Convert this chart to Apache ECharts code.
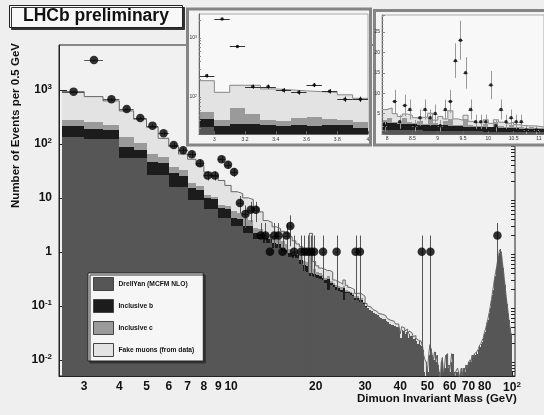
<!DOCTYPE html>
<html>
<head>
<meta charset="utf-8">
<script src="https://cdn.jsdelivr.net/npm/echarts@6/dist/echarts.min.js"></script>
<style>
html, body { margin: 0; padding: 0; background: #efefef; }
#chart { width: 544px; height: 415px; }
</style>
</head>
<body>
<div id="chart"></div>
<script>
const FONT = 'Liberation Sans, Arial, sans-serif';

// ---- main plot: 0.5 GeV bins from 2.5 GeV ----
const mainStart = 2.5;
const mainWidth = 0.5;
const drellYan = [
  137, 124, 124, 54, 54, 27, 27, 16, 16, 9.2,
  9.2, 6.2, 6.2, 4.2, 4.2, 3.0, 3.0, 2.2, 2.2, 1.7,
  1.7, 1.45, 1.45, 1.2, 1.2, 1.0, 0.95, 0.8, 0.76, 0.76,
  0.6, 0.45, 0.43, 0.36, 0.34, 0.33, 0.32, 0.3, 0.27, 0.2,
  0.24, 0.22, 0.2, 0.19, 0.18, 0.13, 0.17, 0.17, 0.16, 0.15,
  0.13, 0.13, 0.12, 0.12, 0.11, 0.095, 0.09, 0.085, 0.08, 0.075,
  0.07, 0.068, 0.062, 0.06, 0.058, 0.056, 0.052, 0.05, 0.046, 0.045,
  0.044, 0.043, 0.04, 0.04, 0.038, 0.025, 0.036, 0.034, 0.03, 0.033,
  0.025, 0.03, 0.028, 0.027, 0.024, 0.025, 0.022, 0.02, 0.022, 0.019,
  0.018, 0.015, 0.006, 0.004, 0.009, 0.006, 0.012, 0.019, 0.016, 0.012,
  0.01, 0.014, 0.009, 0.012, 0.008, 0.006, 0.004, 0.009, 0.011, 0.006,
  0.007, 0.012, 0.013, 0.007, 0.008, 0.006, 0.009, 0.013, 0.013, 0.006,
  0.005, 0.006, 0.006, 0.007, 0.006, 0.004, 0.006, 0.007, 0.005, 0.007,
  0.007, 0.006, 0.008, 0.008, 0.007, 0.009, 0.009, 0.01, 0.009, 0.012,
  0.012, 0.011, 0.013, 0.012, 0.014, 0.013, 0.015, 0.016, 0.018, 0.017,
  0.02, 0.022, 0.021, 0.025, 0.03, 0.032, 0.037, 0.042, 0.05, 0.055,
  0.065, 0.075, 0.09, 0.11, 0.13, 0.16, 0.2, 0.24, 0.3, 0.36,
  0.42, 0.5, 0.6, 0.72, 0.85, 0.97, 1.1, 1.12, 1.0, 0.82,
  0.62, 0.5, 0.4, 0.3, 0.24, 0.18, 0.14, 0.11, 0.09, 0.07,
  0.055, 0.045, 0.038, 0.032, 0.03
];
const inclB = [
  78, 63, 57, 33, 23, 20, 17, 13, 9, 5.8,
  4.8, 3.7, 3.3, 2.3, 2.1, 1.2, 1.1, 0.8, 0.75, 0.5,
  0.45, 0.35, 0.3, 0.25, 0.2, 0.2, 0.15, 0.15, 0.12, 0.1,
  0.1, 0.12, 0.12, 0.05, 0.05, 0.04, 0.04, 0.03, 0.03, 0.12,
  0.02, 0.02, 0.02, 0.02, 0.02, 0.08, 0.01, 0.01, 0.01, 0.01,
  0.01, 0.01, 0.01, 0.01, 0.005, 0.005
];
const inclC = [
  63, 72, 44, 46, 26, 18, 13, 9, 8, 4,
  2.5, 1.5, 1.0, 0.9, 0.8, 1.4, 1.2, 1.2, 1.0, 0.6,
  0.5, 0.4, 0.35, 0.5, 0.3, 0.4, 0.3, 0.2, 0.15, 0.1,
  0.15, 0.1, 0.1, 0.6, 0.1, 0.05, 0.04, 0.04, 0.03, 0.03,
  0.03, 0.02, 0.02, 0.02, 0.02, 0.02, 0.02, 0.01, 0.01, 0.01,
  0.01, 0.01, 0.01, 0.01, 0.005
];
const fakeMu = [
  652, 493, 401, 275, 184, 139, 70, 51, 32, 33,
  23.5, 18.6, 14.5, 13.6, 9.9, 7.4, 6.7, 5.8, 5.35, 3.7,
  2.85, 1.6, 1.4, 0.95, 1.0, 0.8, 0.8, 0.75, 0.57, 0.44,
  0.4, 0.33, 0.25, 1.19, 0.17, 0.13, 0.1, 0.11, 0.12, 0.1,
  0.13, 0.04, 0.04, 0.04, 0.03, 0.07, 0.04, 0.03, 0.03, 0.03,
  0.02, 0.02, 0.03, 0.02, 0.03, 0.01, 0.01, 0.01, 0.01, 0.01,
  0.01, 0.01, 0.01, 0.01, 0.01, 0.01, 0.01, 0.008, 0.008, 0.008,
  0.008, 0.006, 0.006, 0.006, 0.005, 0.005, 0.005, 0.005, 0.004, 0.004,
  0.004, 0.004, 0.004, 0.003, 0.003, 0.003, 0.003, 0.003, 0.003, 0.003,
  0.003, 0.003, 0.006, 0.006
];
const dataMass = [
  2.75, 3.25, 3.75, 4.25, 4.75, 5.25, 5.75, 6.25, 6.75, 7.25,
  7.75, 8.25, 8.75, 9.25, 9.75, 10.25, 10.75, 11.25, 11.75, 12.25,
  12.75, 13.25, 13.75, 14.25, 14.75, 15.25, 15.75, 16.25, 16.75, 17.75,
  18.25, 18.75, 19.25, 19.75, 21.25, 23.75, 27.75, 28.75, 47.75, 51.25,
  88.75
];
const dataCount = [
  930, 3600, 673, 445, 303, 218, 158, 95, 76, 64,
  44, 26, 26, 52, 41, 30, 8, 5, 6, 6,
  2, 2, 1, 2, 2, 1, 2, 3, 1, 1,
  1, 1, 1, 1, 1, 1, 1, 1, 1, 1,
  2
];
const mainXTicks = [3, 4, 5, 6, 7, 8, 9, 10, 20, 30, 40, 50, 60, 70, 80, 100];
const mainYTicks = [0.01, 0.1, 1, 10, 100, 1000];
const mainYMinor = [
  0.006, 0.007, 0.008, 0.009, 0.02, 0.03, 0.04, 0.05, 0.06, 0.07, 0.08, 0.09,
  0.2, 0.3, 0.4, 0.5, 0.6, 0.7, 0.8, 0.9, 2, 3, 4, 5, 6, 7, 8, 9,
  20, 30, 40, 50, 60, 70, 80, 90, 200, 300, 400, 500, 600, 700, 800, 900,
  2000, 3000, 4000, 5000, 6000
];

// ---- J/psi inset: 0.1 GeV bins from 2.9 GeV ----
const jpsiStart = 2.9;
const jpsiWidth = 0.1;
const jpsiDY = [31, 20, 20, 20, 20, 19, 19, 18, 18, 18, 17];
const jpsiB = [11, 12, 15, 15, 13.5, 13, 14.5, 14, 15, 15, 13];
const jpsiC = [14, 9, 29, 16, 7.5, 7, 10.5, 14, 9, 7, 7];
const jpsiFake = [133, 79, 94, 107, 96, 93, 83, 77, 78, 69, 58];
const jpsiCount = [230, 2100, 720, 150, 150, 130, 120, 160, 125, 92, 92];
const jpsiXTicks = [3, 3.2, 3.4, 3.6, 3.8, 4];
const jpsiYTicks = [100, 1000];
const jpsiYMinor = [30, 40, 50, 60, 70, 80, 90, 200, 300, 400, 500, 600, 700, 800, 900, 2000];

// ---- Upsilon inset: 0.1 GeV bins from 7.9 GeV ----
const upsStart = 7.9;
const upsWidth = 0.1;
const upsDY = [1.0, 1.0, 1.0, 0.9, 0.9, 0.9, 0.9, 0.9, 0.8, 0.8, 0.8, 0.8, 0.8, 0.8, 0.7, 0.7,
  0.7, 0.7, 0.7, 0.7, 0.6, 0.6, 0.6, 0.6, 0.6, 0.6, 0.5, 0.5, 0.5, 0.5, 0.5, 0.5];
const upsB = [1.9, 1.7, 1.6, 1.6, 1.5, 1.5, 1.5, 1.4, 1.4, 1.4, 1.3, 1.3, 1.3, 1.2, 1.2, 1.2,
  1.1, 1.1, 1.1, 1.0, 1.0, 1.0, 1.0, 0.9, 0.9, 0.9, 0.9, 0.8, 0.8, 0.8, 0.8, 0.7];
const upsC = [0.5, 1.3, 0.3, 0.4, 1.6, 0.6, 0.2, 1.0, 0.3, 1.4, 0.5, 0.2, 1.0, 1.8, 0.2, 0.3,
  2.0, 0.5, 0.2, 0.3, 0.9, 0.2, 1.3, 0.5, 0.2, 0.6, 0.3, 0.3, 0.2, 0.3, 0.2, 0.2];
const upsFake = [2.6, 2.4, 2.1, 1.4, 0.9, 1.6, 1.4, 0.8, 1.6, 1.5, 0.8, 2.0, 0.6, 1.9, 1.6, 1.2,
  0.8, 0.8, 0.8, 0.8, 1.0, 0.8, 0.6, 0.9, 0.8, 0.8, 0.6, 0.5, 0.5, 0.4, 0.4, 0.3];
const upsCount = [2, null, 8, 3, 7, 6, 2, 4, 6, 4, 5, 2, 6, 8, 18, 23,
  15, 6, 3, 3, 3, 12, 2, 6, 3, 4, 3, 3, 1, null, 1, null];
const upsXTicks = [8, 8.5, 9, 9.5, 10, 10.5, 11];
const upsYTicks = [5, 10, 15, 20, 25];

const NAMES = ['DrellYan (MCFM NLO)', 'Inclusive b', 'Inclusive c', 'Fake muons (from data)'];
const COLORS = ['#565656', '#1c1c1c', '#9a9a9a', '#e3e3e3'];

// stack the components bin by bin
function buildStack(start, width, comps) {
  const n = Math.max(...comps.map(c => c.length));
  const layers = comps.map(() => []);
  const total = [];
  for (let i = 0; i < n; i++) {
    const lo = +(start + i * width).toFixed(3);
    const hi = +(start + (i + 1) * width).toFixed(3);
    let acc = 0;
    comps.forEach((c, k) => {
      const v = c[i] || 0;
      layers[k].push([lo, hi, acc, acc + v]);
      acc += v;
    });
    total.push([lo, acc]);
  }
  total.push([+(start + n * width).toFixed(3), total[n - 1][1]]);
  return { layers, total };
}

function points(xs, counts, halfW) {
  const out = [];
  counts.forEach((n, i) => {
    if (n == null) return;
    const e = Math.sqrt(n);
    out.push([xs[i], n, xs[i] - halfW, xs[i] + halfW, n - e, n + e]);
  });
  return out;
}

function renderBin(yMin) {
  return function (params, api) {
    const top = api.value(3);
    const base = Math.max(api.value(2), yMin);
    if (!(top > base)) return;
    const a = api.coord([api.value(0), top]);
    const b = api.coord([api.value(1), base]);
    const x0 = Math.round(a[0]), x1 = Math.round(b[0]);
    const y0 = Math.round(a[1]), y1 = Math.round(b[1]);
    if (x1 <= x0 || y1 <= y0) return;
    return {
      type: 'rect',
      shape: { x: x0, y: y0, width: x1 - x0, height: y1 - y0 },
      style: { fill: api.visual('color') }
    };
  };
}

function renderErr(yMin, color) {
  return function (params, api) {
    const x = api.value(0), y = api.value(1);
    const c = api.coord([x, y]);
    const t = api.coord([x, api.value(5)]);
    const b = api.coord([x, Math.max(api.value(4), yMin)]);
    const l = api.coord([api.value(2), y]);
    const r = api.coord([api.value(3), y]);
    const cx = Math.round(c[0]) + 0.5, cy = Math.round(c[1]) + 0.5;
    return {
      type: 'group',
      children: [
        { type: 'line', shape: { x1: cx, y1: t[1], x2: cx, y2: b[1] }, style: { stroke: color, lineWidth: 1 } },
        { type: 'line', shape: { x1: l[0], y1: cy, x2: r[0], y2: cy }, style: { stroke: color, lineWidth: 1 } }
      ]
    };
  };
}

function stackSeries(stack, xi, yi, yMin, z, outline) {
  const list = stack.layers.map((layer, k) => ({
    type: 'custom', name: NAMES[k], xAxisIndex: xi, yAxisIndex: yi, z: z, clip: true,
    itemStyle: { color: COLORS[k] },
    encode: { x: 0, y: 3 },
    renderItem: renderBin(yMin),
    data: layer
  }));
  list.push({
    type: 'line', xAxisIndex: xi, yAxisIndex: yi, z: z + 1, step: 'end', symbol: 'none', clip: true,
    lineStyle: { color: outline, width: 1 }, data: stack.total, silent: true
  });
  return list;
}

function dataSeries(pts, xi, yi, yMin, z, size, errColor) {
  return [
    {
      type: 'custom', xAxisIndex: xi, yAxisIndex: yi, z: z, clip: true,
      encode: { x: 0, y: 1 }, renderItem: renderErr(yMin, errColor), data: pts
    },
    {
      type: 'scatter', xAxisIndex: xi, yAxisIndex: yi, z: z + 1, symbol: 'circle', symbolSize: size,
      itemStyle: { color: '#000' }, data: pts.map(p => [p[0], p[1]])
    }
  ];
}

const powLabel = (v, small) => {
  const e = Math.round(Math.log10(v));
  if (e === 0) return '1';
  if (e === 1 && !small) return '10';
  return '{b|10}{s|' + e + '}';
};

const mainStack = buildStack(mainStart, mainWidth, [drellYan, inclB, inclC, fakeMu]);
const jpsiStack = buildStack(jpsiStart, jpsiWidth, [jpsiDY, jpsiB, jpsiC, jpsiFake]);
const upsStack = buildStack(upsStart, upsWidth, [upsDY, upsB, upsC, upsFake]);

const jpsiX = jpsiCount.map((_, i) => +(jpsiStart + (i + 0.5) * jpsiWidth).toFixed(3));
const upsX = upsCount.map((_, i) => +(upsStart + (i + 0.5) * upsWidth).toFixed(3));

const MAIN_YMIN = 0.005, JPSI_YMIN = 23.6;

const smallAxis = { fontFamily: FONT, fontSize: 5, color: '#333' };

const chart = echarts.init(document.getElementById('chart'));
chart.setOption({
  animation: false,
  backgroundColor: '#efefef',
  title: {
    text: 'LHCb preliminary', left: 9, top: 5, padding: [2, 14, 2, 14],
    backgroundColor: '#f8f8f8', borderColor: '#222', borderWidth: 1,
    shadowColor: '#333', shadowOffsetX: 2, shadowOffsetY: 2, shadowBlur: 0,
    textStyle: { fontFamily: FONT, fontWeight: 'bold', fontSize: 17.5, lineHeight: 19, color: '#111' }
  },
  legend: {
    left: 88, top: 273, orient: 'vertical', icon: 'rect', selectedMode: false,
    itemWidth: 20, itemHeight: 13, itemGap: 8, padding: [4, 9, 4, 5],
    backgroundColor: '#f6f6f6', borderColor: '#222', borderWidth: 1,
    shadowColor: '#333', shadowOffsetX: 2, shadowOffsetY: 2, shadowBlur: 0,
    itemStyle: { borderColor: '#444', borderWidth: 1 },
    textStyle: { fontFamily: FONT, fontSize: 6.7, fontWeight: 'bold', color: '#111' },
    data: NAMES
  },
  graphic: [
    { type: 'rect', z: 3, shape: { x: 187.5, y: 9, width: 183, height: 136 },
      style: { fill: '#f4f4f4', stroke: '#858585', lineWidth: 3 } },
    { type: 'rect', z: 3, shape: { x: 374.5, y: 10.5, width: 180, height: 134.5 },
      style: { fill: '#f4f4f4', stroke: '#858585', lineWidth: 3 } }
  ],
  grid: [
    { left: 59, right: 29, top: 45, bottom: 39, outerBoundsMode: 'none', show: true, backgroundColor: '#f1f1f1', borderColor: '#222', borderWidth: 1 },
    { left: 199, right: 176, top: 14, bottom: 281, outerBoundsMode: 'none', show: true, z: 4, backgroundColor: '#f8f8f8', borderColor: '#aaa', borderWidth: 1 },
    { left: 382, right: 0, top: 15, bottom: 281, outerBoundsMode: 'none', show: true, z: 4, backgroundColor: '#f8f8f8', borderColor: '#aaa', borderWidth: 1 }
  ],
  xAxis: [
    {
      type: 'log', gridIndex: 0, min: 2.44, max: 102.5,
      name: 'Dimuon Invariant Mass (GeV)', nameLocation: 'end', nameGap: -158, nameMoveOverlap: false,
      nameTextStyle: { fontFamily: FONT, fontWeight: 'bold', fontSize: 11.5, color: '#111', align: 'left', verticalAlign: 'top', padding: [17, 0, 0, 0] },
      axisLine: { show: true, lineStyle: { color: '#222' } },
      axisTick: { show: true, inside: true, length: 5, customValues: mainXTicks, lineStyle: { color: '#222' } },
      axisLabel: {
        customValues: mainXTicks, margin: 5, fontFamily: FONT, fontSize: 12, fontWeight: 'bold', color: '#111',
        formatter: v => (v === 100 ? powLabel(v) : String(v)),
        rich: {
          b: { fontFamily: FONT, fontSize: 12, fontWeight: 'bold', color: '#111', lineHeight: 14 },
          s: { fontFamily: FONT, fontSize: 8, fontWeight: 'bold', color: '#111', verticalAlign: 'top', lineHeight: 9 }
        }
      },
      splitLine: { show: false }
    },
    {
      type: 'value', gridIndex: 1, min: 2.9, max: 4, z: 9,
      axisLine: { show: true, lineStyle: { color: '#666' } },
      axisTick: { show: true, inside: true, length: 3, customValues: jpsiXTicks, lineStyle: { color: '#666' } },
      axisLabel: Object.assign({ customValues: jpsiXTicks, margin: 3 }, smallAxis),
      splitLine: { show: false }
    },
    {
      type: 'value', gridIndex: 2, min: 7.9, max: 11.1, z: 9,
      axisLine: { show: true, lineStyle: { color: '#666' } },
      axisTick: { show: true, inside: true, length: 3, customValues: upsXTicks, lineStyle: { color: '#666' } },
      axisLabel: Object.assign({ customValues: upsXTicks, margin: 2 }, smallAxis),
      splitLine: { show: false }
    }
  ],
  yAxis: [
    {
      type: 'log', gridIndex: 0, min: MAIN_YMIN, max: 6800,
      name: 'Number of Events per 0.5 GeV', nameLocation: 'middle', nameRotate: 90, nameGap: 37, nameMoveOverlap: false,
      nameTextStyle: { fontFamily: FONT, fontWeight: 'bold', fontSize: 11.5, color: '#111', padding: [0, 0, 0, 170] },
      axisLine: { show: true, lineStyle: { color: '#222' } },
      axisTick: { show: true, inside: true, length: 8, customValues: mainYTicks, lineStyle: { color: '#222' } },
      axisLabel: {
        customValues: mainYTicks, margin: 7, fontFamily: FONT, fontSize: 12, fontWeight: 'bold', color: '#111',
        formatter: v => powLabel(v),
        rich: {
          b: { fontFamily: FONT, fontSize: 12, fontWeight: 'bold', color: '#111', lineHeight: 14 },
          s: { fontFamily: FONT, fontSize: 8, fontWeight: 'bold', color: '#111', verticalAlign: 'top', lineHeight: 9 }
        }
      },
      splitLine: { show: false }
    },
    {
      type: 'log', gridIndex: 0, min: MAIN_YMIN, max: 6800,
      axisLine: { show: false },
      axisTick: { show: true, inside: true, length: 4, customValues: mainYMinor, lineStyle: { color: '#222' } },
      axisLabel: { show: false },
      splitLine: { show: false }
    },
    {
      type: 'log', gridIndex: 1, min: JPSI_YMIN, max: 2550, z: 9,
      axisLine: { show: true, lineStyle: { color: '#666' } },
      axisTick: { show: true, inside: true, length: 2, customValues: jpsiYTicks.concat(jpsiYMinor), lineStyle: { color: '#888' } },
      axisLabel: Object.assign({
        customValues: jpsiYTicks, margin: 2, formatter: v => powLabel(v, true),
        rich: { b: { fontFamily: FONT, fontSize: 5, color: '#333' }, s: { fontFamily: FONT, fontSize: 3.5, color: '#333', verticalAlign: 'top' } }
      }, smallAxis),
      splitLine: { show: false }
    },
    {
      type: 'value', gridIndex: 2, min: 0, max: 29.2, interval: 5, z: 9,
      axisLine: { show: true, lineStyle: { color: '#666' } },
      axisTick: { show: true, inside: true, length: 3, lineStyle: { color: '#888' } },
      minorTick: { show: true, splitNumber: 5, length: 1.5, lineStyle: { color: '#999' } },
      axisLabel: Object.assign({ customValues: upsYTicks, margin: 2 }, smallAxis),
      splitLine: { show: false }
    }
  ],
  series: [].concat(
    stackSeries(mainStack, 0, 0, MAIN_YMIN, 2, '#666'),
    dataSeries(points(dataMass, dataCount, mainWidth / 2), 0, 0, MAIN_YMIN, 4, 8.5, '#555'),
    stackSeries(jpsiStack, 1, 2, JPSI_YMIN, 5, '#888'),
    dataSeries(points(jpsiX, jpsiCount, jpsiWidth / 2), 1, 2, JPSI_YMIN, 7, 3.5, '#333'),
    stackSeries(upsStack, 2, 3, 0, 5, '#888'),
    dataSeries(points(upsX, upsCount, upsWidth / 2), 2, 3, 0, 7, 3.5, '#999')
  )
});
</script>
</body>
</html>
